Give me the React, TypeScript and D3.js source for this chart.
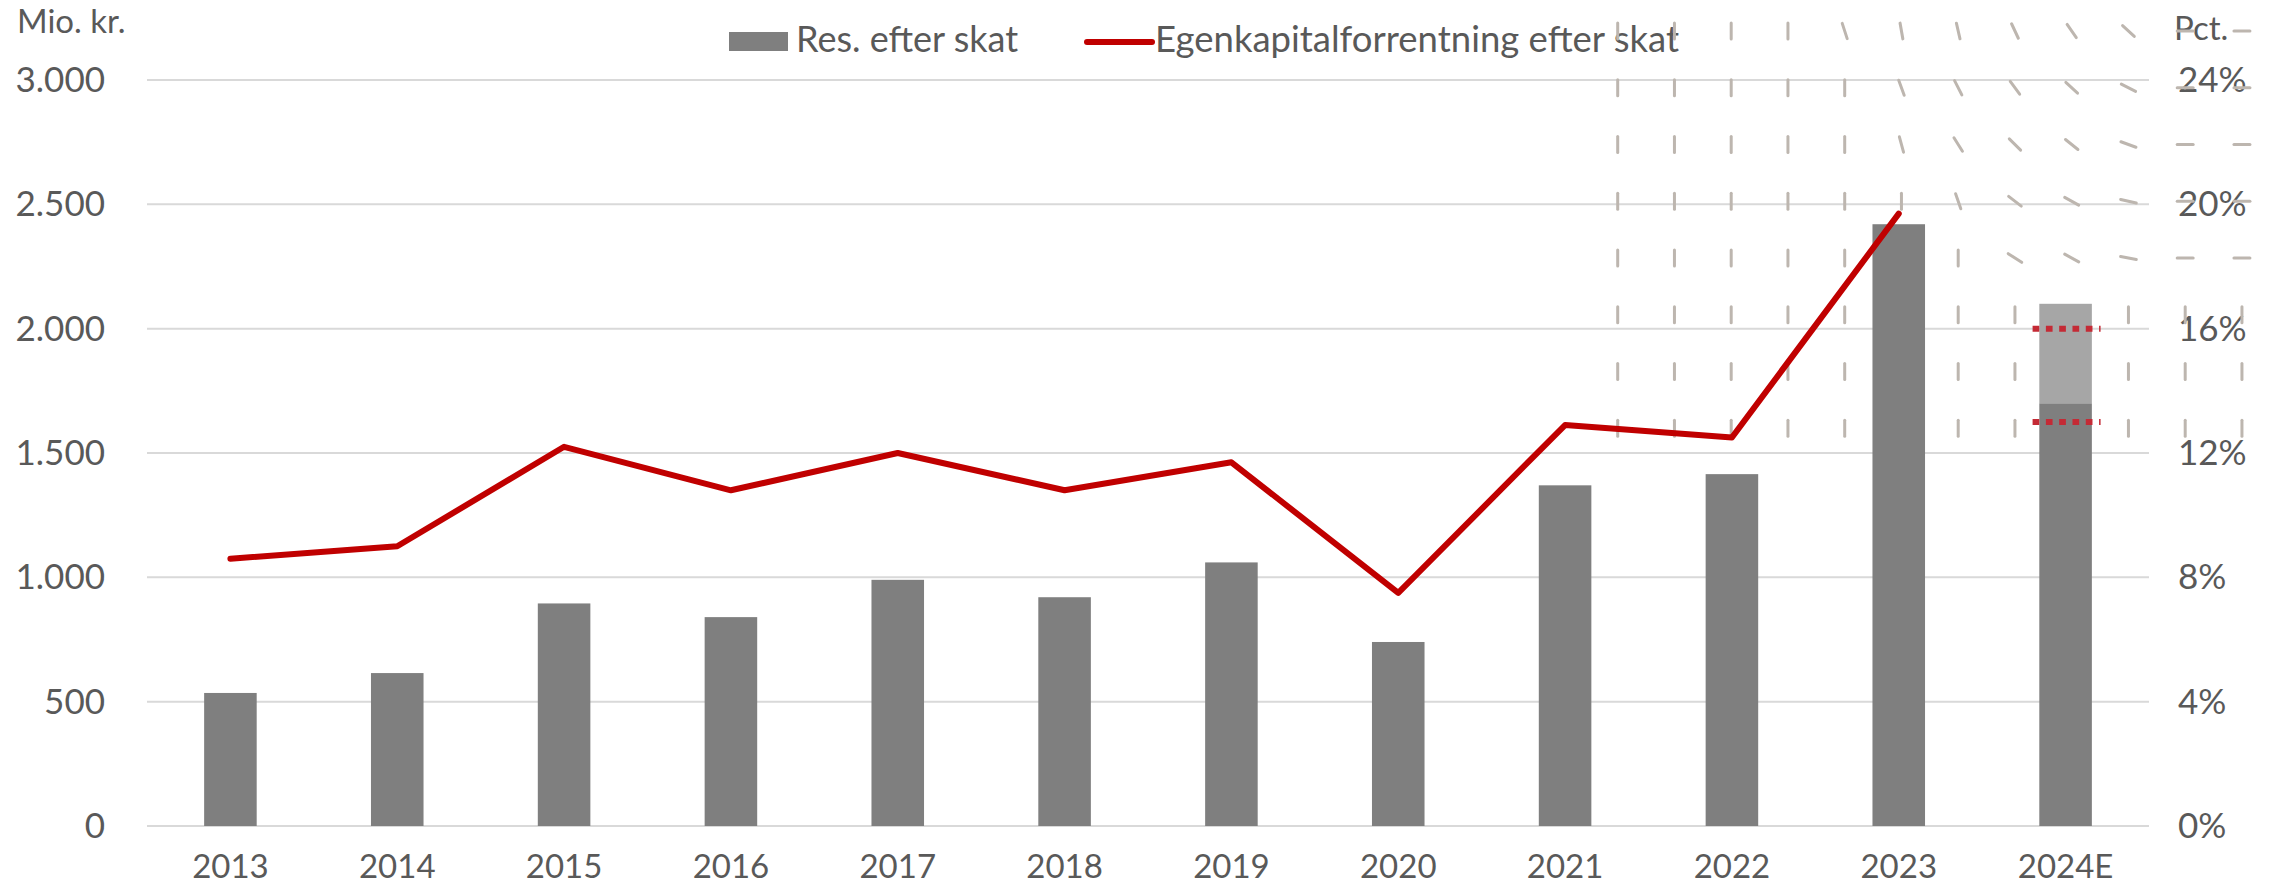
import React from 'react';
import * as d3 from 'd3';

const categories = ['2013', '2014', '2015', '2016', '2017', '2018', '2019', '2020', '2021', '2022', '2023', '2024E'];
// Res. efter skat (mio. kr.)
const resultValues = [535, 615, 895, 840, 990, 920, 1060, 740, 1370, 1415, 2420, 1700];
// 2024E estimate interval (mio. kr.)
const estimateRange2024 = [1700, 2100];
// Egenkapitalforrentning efter skat (pct.)
const roeValues: (number | null)[] = [8.6, 9.0, 12.2, 10.8, 12.0, 10.8, 11.7, 7.5, 12.9, 12.5, 19.7, null];
// 2024E ROE interval (pct.)
const roeRange2024 = [13, 16];

const leftTicks = [0, 500, 1000, 1500, 2000, 2500, 3000];
const rightTicks = [0, 4, 8, 12, 16, 20, 24];

// decorative dash field (degrees off vertical), rows x cols
const dashAngles = [
  [0, 0, 0, 0, 18, 10, 13, 25, 35, 47, 90, 90],
  [0, 0, 0, 0, 0, 20, 27, 36, 47, 63, 90, 90],
  [0, 0, 0, 0, 0, 15, 32, 45, 51, 70, 90, 90],
  [0, 0, 0, 0, 0, 0, 19, 52, 61, 77, 90, 90],
  [0, 0, 0, 0, 0, 0, 0, 57, 61, 79, 90, 90],
  [0, 0, 0, 0, 0, 0, 0, 0, 0, 0, 0, 0],
  [0, 0, 0, 0, 0, 0, 0, 0, 0, 0, 0, 0],
  [0, 0, 0, 0, 0, 0, 0, 0, 0, 0, 0, 0],
];

const W = 2272;
const H = 886;
const FONT = 'Lato, "Noto Sans", sans-serif';
const TEXT = '#595959';

const locale = d3.formatLocale({ decimal: ',', thousands: '.', grouping: [3], currency: ['', ''] });
const fmt = locale.format(',.0f');

export default function App() {
  const x = d3.scaleBand<string>().domain(categories).range([147, 2149]).padding(0);
  const y = d3.scaleLinear().domain([0, 3000]).range([826, 80]);
  const yR = d3.scaleLinear().domain([0, 24]).range([826, 80]);
  const barW = x.bandwidth() * 0.315;
  const cx = (c: string) => (x(c) as number) + x.bandwidth() / 2;

  const line = d3
    .line<number | null>()
    .defined((d) => d != null)
    .x((_, i) => cx(categories[i]))
    .y((d) => yR(d as number));

  const last = categories[categories.length - 1];

  const px0 = 1617.7;
  const py0 = 31;
  const step = 56.75;
  const half = 8;

  return (
    <svg width={W} height={H} style={{ position: 'absolute', left: 0, top: 0, background: '#fff' }} fontFamily={FONT}>
      {/* gridlines */}
      {leftTicks.map((t) => (
        <line key={t} x1={147} x2={2149} y1={y(t)} y2={y(t)} stroke="#d9d9d9" strokeWidth={2} />
      ))}
      {/* left axis labels */}
      {leftTicks.map((t) => (
        <text key={'l' + t} x={105} y={y(t) + 12} textAnchor="end" fontSize={35} fill={TEXT}>
          {fmt(t)}
        </text>
      ))}
      {rightTicks.map((t) => (
        <text key={'r' + t} x={2178} y={yR(t) + 12} fontSize={35} fill={TEXT}>
          {t + '%'}
        </text>
      ))}
      <text x={17} y={33} fontSize={33} fill={TEXT}>Mio. kr.</text>
      <text x={2174} y={40} fontSize={33} fill={TEXT}>Pct.</text>
      {/* x labels */}
      {categories.map((c) => (
        <text key={'x' + c} x={cx(c)} y={878} textAnchor="middle" fontSize={33} fill={TEXT}>
          {c}
        </text>
      ))}
      {/* legend */}
      <rect x={729} y={32} width={59} height={19} fill="#7f7f7f" />
      <text x={796} y={52} fontSize={36} fill={TEXT}>Res. efter skat</text>
      <line x1={1087} x2={1152} y1={42} y2={42} stroke="#c00000" strokeWidth={6} strokeLinecap="round" />
      <text x={1155} y={52} fontSize={36.5} fill={TEXT}>Egenkapitalforrentning efter skat</text>
      {/* decorative dash field */}
      {dashAngles.map((row, r) =>
        row.map((a, c) => {
          const mx = px0 + c * step;
          const my = py0 + r * step;
          const rad = (a * Math.PI) / 180;
          const dx = half * Math.sin(rad);
          const dy = half * Math.cos(rad);
          return (
            <line
              key={`d${r}-${c}`}
              x1={mx - dx}
              y1={my - dy}
              x2={mx + dx}
              y2={my + dy}
              stroke="#bdb6af"
              strokeWidth={3}
              strokeLinecap="round"
            />
          );
        })
      )}
      {/* bars */}
      {categories.map((c, i) => (
        <rect
          key={'b' + c}
          x={cx(c) - barW / 2}
          y={y(resultValues[i])}
          width={barW}
          height={y(0) - y(resultValues[i])}
          fill="#7f7f7f"
        />
      ))}
      <rect
        x={cx(last) - barW / 2}
        y={y(estimateRange2024[1])}
        width={barW}
        height={y(estimateRange2024[0]) - y(estimateRange2024[1])}
        fill="#a6a6a6"
      />
      {/* ROE range markers */}
      {roeRange2024.map((v) => (
        <line
          key={'rr' + v}
          x1={cx(last) - 33}
          x2={cx(last) + 35}
          y1={yR(v)}
          y2={yR(v)}
          stroke="#c42a35"
          strokeWidth={6}
          strokeDasharray="6.7,6.6"
        />
      ))}
      {/* ROE line */}
      <path d={line(roeValues) || ''} fill="none" stroke="#c00000" strokeWidth={6} strokeLinejoin="round" strokeLinecap="round" />
    </svg>
  );
}
